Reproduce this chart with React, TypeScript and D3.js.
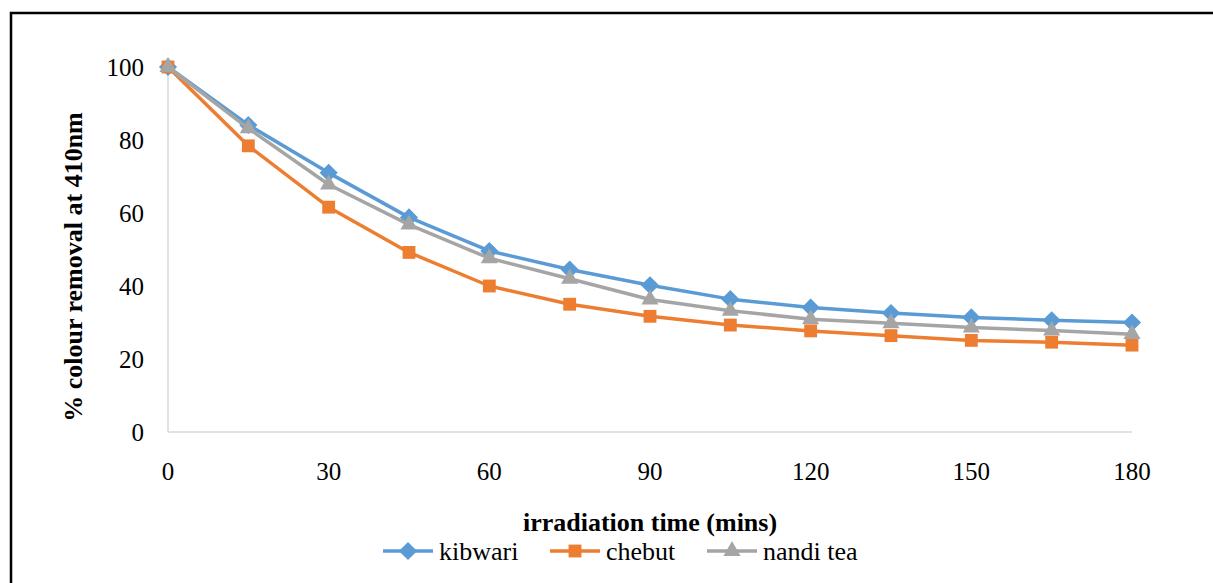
import { useEffect, useRef } from 'react';
import * as d3 from 'd3';

const times = [0, 15, 30, 45, 60, 75, 90, 105, 120, 135, 150, 165, 180];
const kibwari = [100, 84.1, 71.0, 58.8, 49.6, 44.5, 40.2, 36.4, 34.1, 32.6, 31.4, 30.6, 30.0];
const chebut = [100, 78.4, 61.6, 49.2, 40.0, 35.0, 31.7, 29.3, 27.7, 26.4, 25.1, 24.6, 23.8];
const nanditea = [100, 83.2, 67.8, 56.8, 47.6, 42.0, 36.3, 33.2, 30.9, 29.8, 28.6, 27.8, 26.8];
const xTicks = [0, 30, 60, 90, 120, 150, 180];
const yTicks = [0, 20, 40, 60, 80, 100];

const series = [
  { name: 'kibwari', values: kibwari, color: '#5b9bd5', shape: d3.symbolDiamond2 },
  { name: 'chebut', values: chebut, color: '#ed7d31', shape: d3.symbolSquare2 },
  { name: 'nandi tea', values: nanditea, color: '#a5a5a5', shape: d3.symbolTriangle2 },
];

const App = () => {
  const svgRef = useRef<SVGSVGElement>(null);

  useEffect(() => {
    const svg = d3.select(svgRef.current);
    svg.selectAll('*').remove();
    const font = '"Liberation Serif", "Times New Roman", serif';

    svg.append('rect')
      .attr('x', 11).attr('y', 13).attr('width', 1250).attr('height', 650)
      .attr('fill', '#fff').attr('stroke', '#000').attr('stroke-width', 2.5);

    const x = d3.scaleLinear().domain([0, 180]).range([168, 1132]);
    const y = d3.scaleLinear().domain([0, 100]).range([432, 67]);

    // axes lines
    svg.append('line')
      .attr('x1', x(0)).attr('x2', x(180)).attr('y1', y(0)).attr('y2', y(0))
      .attr('stroke', '#d9d9d9').attr('stroke-width', 1.5);
    svg.append('line')
      .attr('x1', x(0)).attr('x2', x(0)).attr('y1', y(0)).attr('y2', y(100))
      .attr('stroke', '#d9d9d9').attr('stroke-width', 1.5);

    svg.append('g').selectAll('text').data(yTicks).join('text')
      .attr('x', 144).attr('y', d => y(d)).attr('dy', '0.35em')
      .attr('text-anchor', 'end').attr('font-family', font).attr('font-size', 25)
      .text(d => d);

    svg.append('g').selectAll('text').data(xTicks).join('text')
      .attr('x', d => x(d)).attr('y', 471).attr('dy', '0.35em')
      .attr('text-anchor', 'middle').attr('font-family', font).attr('font-size', 25)
      .text(d => d);

    svg.append('text')
      .attr('x', 650).attr('y', 522).attr('dy', '0.35em')
      .attr('text-anchor', 'middle').attr('font-family', font).attr('font-size', 26)
      .attr('font-weight', 'bold').text('irradiation time (mins)');

    svg.append('text')
      .attr('transform', `translate(73,267) rotate(-90)`).attr('dy', '0.35em')
      .attr('text-anchor', 'middle').attr('font-family', font).attr('font-size', 26)
      .attr('font-weight', 'bold').text('% colour removal at 410nm');

    const lineGen = d3.line<number>()
      .x((_, i) => x(times[i]))
      .y(v => y(v));

    series.forEach(s => {
      const g = svg.append('g');
      g.append('path').datum(s.values)
        .attr('d', lineGen).attr('fill', 'none')
        .attr('stroke', s.color).attr('stroke-width', 3.5).attr('stroke-linejoin', 'round');
      g.selectAll('path.m').data(s.values).join('path')
        .attr('class', 'm')
        .attr('transform', (v, i) => `translate(${x(times[i])},${y(v)})`)
        .attr('d', d3.symbol(s.shape, 210)())
        .attr('fill', s.color);
    });

    // legend
    const legendX = [383, 550, 707];
    series.forEach((s, i) => {
      const lx = legendX[i];
      const ly = 551;
      svg.append('line')
        .attr('x1', lx).attr('x2', lx + 50).attr('y1', ly).attr('y2', ly)
        .attr('stroke', s.color).attr('stroke-width', 3.5);
      svg.append('path')
        .attr('transform', `translate(${lx + 25},${ly})`)
        .attr('d', d3.symbol(s.shape, 210)())
        .attr('fill', s.color);
      svg.append('text')
        .attr('x', lx + 56).attr('y', ly).attr('dy', '0.35em')
        .attr('font-family', font).attr('font-size', 26)
        .text(s.name);
    });
  }, []);

  return (
    <svg ref={svgRef} width={1213} height={583}
      style={{ position: 'absolute', left: 0, top: 0, background: '#fff' }} />
  );
};

export default App;
